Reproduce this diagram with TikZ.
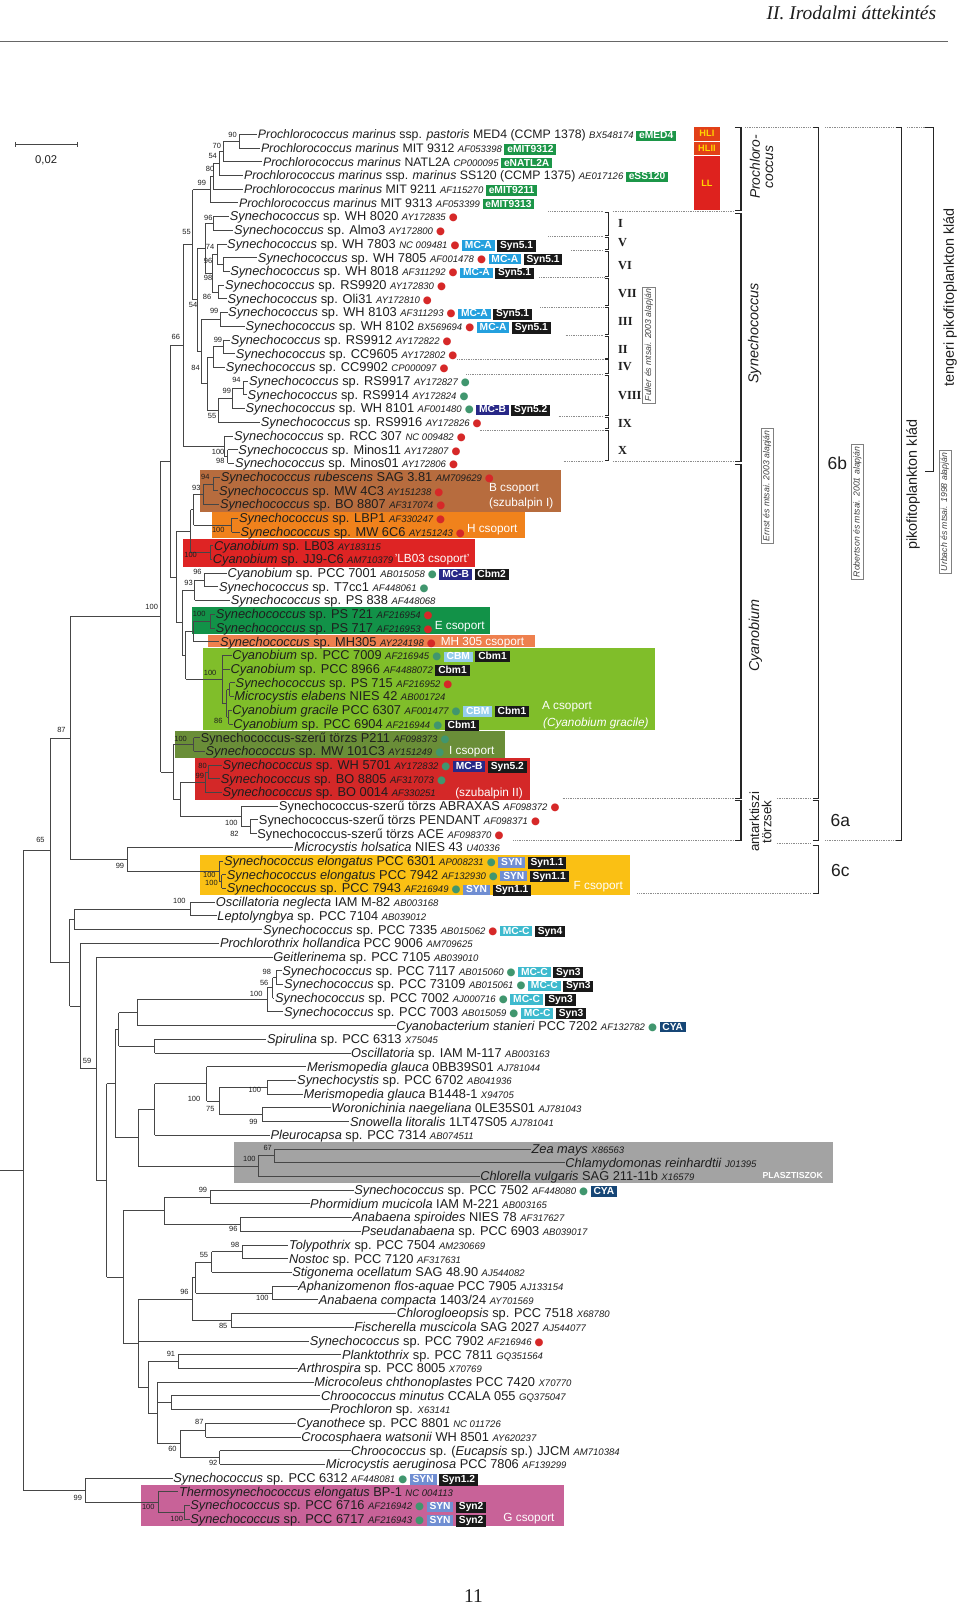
\documentclass[tikz,border=0pt]{standalone}
\usepackage{fontspec}
\setmainfont{Liberation Sans}
\newfontfamily\serif{Liberation Serif}
\newfontfamily\dejavu{DejaVu Sans}
\definecolor{txt}{RGB}{30,30,30}
\definecolor{brn}{RGB}{183,108,62}
\definecolor{org}{RGB}{240,130,28}
\definecolor{rd}{RGB}{222,36,36}
\definecolor{dgr}{RGB}{18,146,72}
\definecolor{slm}{RGB}{238,128,78}
\definecolor{lgr}{RGB}{128,190,42}
\definecolor{olv}{RGB}{106,142,56}
\definecolor{rdb}{RGB}{212,40,40}
\definecolor{ylw}{RGB}{250,192,20}
\definecolor{gry}{RGB}{163,163,163}
\definecolor{pnk}{RGB}{200,98,152}
\definecolor{tgreen}{RGB}{28,150,72}
\definecolor{tblue}{RGB}{36,160,222}
\definecolor{tnavy}{RGB}{40,40,135}
\definecolor{tcyan}{RGB}{62,186,206}
\definecolor{tlblue}{RGB}{150,206,236}
\definecolor{tsyn}{RGB}{112,142,210}
\definecolor{tcya}{RGB}{22,70,118}
\definecolor{tblk}{RGB}{25,25,25}
\definecolor{dotred}{RGB}{214,40,40}
\definecolor{dotgrn}{RGB}{64,150,110}
\definecolor{hlcol}{RGB}{226,64,24}
\definecolor{llcol}{RGB}{222,34,30}
\definecolor{hltext}{RGB}{255,214,0}
\definecolor{dotline}{RGB}{140,140,140}
\definecolor{brline}{RGB}{70,70,70}
\newcommand\Y[1]{131+13.38*((#1)-1)}
\newcommand\syn{\textit{Synechococcus}}
\newcommand\pro{\fontsize{12}{13}\selectfont\textit{Prochlorococcus marinus}}
\newcommand\cy{\textit{Cyanobium}}
\newcommand\acc[1]{{\fontsize{9.3}{9.3}\selectfont\itshape #1}}
\newcommand\tg[2]{\hspace{2.5pt}{\setlength{\fboxsep}{1pt}\colorbox{#1}{\hspace{1.8pt}\rule[-1.2pt]{0pt}{8pt}\fontsize{10}{10}\selectfont\bfseries\color{white}#2\hspace{1.8pt}}}}
\newcommand\dr{\hspace{3pt}{\dejavu\fontsize{10}{10}\selectfont\textcolor{dotred}{●}}}
\newcommand\dg{\hspace{3pt}{\dejavu\fontsize{10}{10}\selectfont\textcolor{dotgrn}{●}}}
\newcommand\dho{\hspace{3pt}{\dejavu\fontsize{10}{10}\selectfont\textcolor{dotred}{○}}}
\newcommand\lf[4]{\node[leaf] (L#1) at (#3,{\Y{#1}+4.3}) {#4};
  \coordinate (P#1) at (#2,{\Y{#1}});
  \draw[br] (P#1) -- (P#1 -| L#1.west);}
\newcommand\nd[4]{\draw[br] (#1,{\Y{((#3)+(#4))/2}}) -- (#2,{\Y{((#3)+(#4))/2}});
  \draw[br] (#2,{\Y{#3}}) -- (#2,{\Y{#4}});}
\newcounter{bsc}
\newcommand\bs[3]{\stepcounter{bsc}\node[bsl] (b\thebsc) at (#1,#2) {#3};}
\tikzset{
  br/.style={draw=brline, line width=0.8pt},
  leaf/.style={anchor=base west, inner xsep=0.5pt, inner ysep=0pt, font=\fontsize{12.5}{13}\selectfont, text=txt},
  bsl/.style={font=\fontsize{7.3}{7.3}\selectfont, text=txt, inner sep=0pt},
  glab/.style={anchor=west, font=\fontsize{11.5}{11.5}\selectfont, text=white, inner sep=0pt},
  brk/.style={draw=black!85, line width=1pt},
  dl/.style={draw=dotline, densely dotted, line width=0.7pt},
  vlab/.style={rotate=90, font=\fontsize{14}{15}\selectfont, text=txt},
  cite/.style={rotate=90, draw=black!50, line width=0.5pt, font=\fontsize{8.5}{9}\selectfont\itshape, inner sep=2pt, text=txt!85},
  roman/.style={anchor=west, font=\serif\bfseries\fontsize{12}{12}\selectfont, text=txt, inner sep=0pt},
  hl/.style={font=\fontsize{9}{9}\selectfont\bfseries, text=hltext, minimum width=26pt, inner sep=0pt}
}
\begin{document}
\begin{tikzpicture}[x=1pt,y=-1pt]
\useasboundingbox (0,0) rectangle (937,1568);
\fill[white] (0,0) rectangle (937,1568);
% header
\node[anchor=east, font=\serif\itshape\fontsize{19}{19}\selectfont, text=txt] (hdr) at (917,13) {II. Irodalmi áttekintés};
\draw[black!60, line width=0.6pt] (0,40) -- (925,40);
\node[font=\serif\fontsize{19}{19}\selectfont, text=txt] (pg) at (462,1557) {11};
% scale bar
\draw[brline, line width=0.8pt] (14.6,141) -- (76,141);
\draw[brline, line width=0.8pt] (14.6,138.5) -- (14.6,143.5) (76,138.5) -- (76,143.5);
\node[font=\fontsize{11}{11}\selectfont, text=txt] (scl) at (45,156) {0,02};
% coloured group boxes
\fill[brn] (195,459) rectangle (547,499.5);
\fill[org] (206.6,499.5) rectangle (512.4,525.4);
\fill[rd] (179,526) rectangle (463.6,553);
\fill[dgr] (187,592.2) rectangle (478,618.2);
\fill[slm] (203.3,619.8) rectangle (522.2,631.2);
\fill[lgr] (198.5,631.8) rectangle (639,712);
\fill[olv] (170.8,713) rectangle (493,740);
\fill[rdb] (190.3,740) rectangle (517.3,781);
\fill[ylw] (195,834) rectangle (615,873.6);
\fill[gry] (228,1114.5) rectangle (812.5,1154.5);
\fill[pnk] (138,1449) rectangle (550,1489);
% Prochlorococcus light boxes
\node[hl, fill=hlcol, minimum height=13.7pt] (hl1) at (689.75,130.45) {HLI};
\node[hl, fill=hlcol, minimum height=13pt] (hl2) at (689.75,144.8) {HLII};
\node[hl, fill=llcol, minimum height=52.7pt] (ll) at (689.75,178.65) {LL};
% group labels
\node[glab] (gB1) at (477,476.5) {B csoport};
\node[glab] (gB2) at (477,491) {(szubalpin I)};
\node[glab] (gH) at (455.5,517) {H csoport};
\node[glab] (gL) at (385,546) {'LB03 csoport'};
\node[glab] (gE) at (424,611.6) {E csoport};
\node[glab] (gM) at (430,626.6) {MH 305 csoport};
\node[glab] (gA1) at (528.7,689.5) {A csoport};
\node[glab] (gA2) at (529.7,706) {\itshape (Cyanobium gracile)};
\node[glab] (gI) at (438,733.5) {I csoport};
\node[glab] (gII) at (444,774.5) {(szubalpin II)};
\node[glab] (gF) at (559.6,865.5) {F csoport};
\node[glab] (gG) at (491,1482) {G csoport};
\node[glab, font=\fontsize{8.5}{8.5}\selectfont\bfseries] (gP) at (743.8,1147.3) {PLASZTISZOK};
% tree: internal nodes
\nd{218}{233.6}{1}{2}
\nd{214}{218}{1.5}{3}
\nd{208}{214}{2.25}{4}
\nd{205}{208}{3.125}{5}
\nd{188}{205}{4.0625}{6}
\nd{200}{208}{7}{8}
\nd{212}{218}{10}{11}
\nd{207}{212}{9}{10.5}
\nd{207}{213}{12}{13}
\nd{200}{207}{9.75}{12.5}
\nd{193}{200}{7.5}{11.125}
\nd{197}{215}{14}{15}
\nd{208}{218}{16}{17}
\nd{202}{208}{16.5}{18}
\nd{227}{237.5}{19}{20}
\nd{213}{227}{19.5}{21}
\nd{202}{213}{20.25}{22}
\nd{197}{202}{17.25}{21.125}
\nd{193}{197}{14.5}{19.1875}
\nd{188}{193}{9.3125}{16.84375}
\nd{178.5}{188}{5.03125}{13.078125}
\nd{219}{222}{24}{25}
\nd{178.5}{219}{23}{24.5}
\nd{166}{178.5}{9.0546875}{23.75}
\nd{198.5}{208}{26}{27}
\nd{189}{198.5}{26.5}{28}
\nd{189}{226}{29}{30}
\nd{186}{189}{27.25}{29.5}
\nd{186}{205}{31}{32}
\nd{172}{186}{28.375}{31.5}
\nd{190}{199}{33}{34}
\nd{178}{190}{33.5}{35}
\nd{189}{205}{36}{37}
\nd{181}{189}{36.5}{38}
\nd{221}{224}{41}{42}
\nd{221}{223}{43}{44}
\nd{217}{221}{41.5}{43.5}
\nd{181}{217}{39}{42.5}
\nd{178}{181}{37.25}{40.75}
\nd{172}{178}{34.25}{39}
\nd{166}{172}{29.9375}{36.625}
\nd{157}{166}{16.40234}{33.28125}
\nd{169}{189}{45}{46}
\nd{200}{203.4}{47}{48}
\nd{176}{200}{47.5}{49}
\nd{236}{244}{51}{52}
\nd{176}{236}{50}{51.5}
\nd{169}{176}{48.25}{50.75}
\nd{157}{169}{45.5}{49.5}
\nd{68.4}{157}{24.8418}{47.5}
\nd{214}{216.5}{55}{56}
\nd{124}{214}{54}{55.5}
\nd{68.4}{124}{53}{54.75}
\nd{48.9}{68.4}{36.1709}{53.875}
\nd{73}{185.5}{57}{58}
\nd{68}{73}{57.5}{59}
\nd{266}{269.4}{62}{63}
\nd{260.7}{266}{62.5}{64}
\nd{134}{260.7}{63.25}{65}
\nd{116}{134}{64.125}{66}
\nd{116}{151}{67}{68}
\nd{113}{116}{65.0625}{67.5}
\nd{214}{260.7}{70}{71}
\nd{214}{255.8}{72}{73}
\nd{201.5}{214}{70.5}{72.5}
\nd{151}{201.5}{69}{71.5}
\nd{135}{151}{70.25}{74}
\nd{252.2}{268}{75}{76}
\nd{135}{252.2}{75.5}{77}
\nd{113}{135}{72.125}{76.25}
\nd{104}{113}{66.28125}{74.1875}
\nd{160.5}{205.3}{78}{79}
\nd{160.5}{234.3}{80}{81}
\nd{120}{160.5}{78.5}{80.5}
\nd{206.6}{236.6}{82}{83}
\nd{191}{206.6}{82.5}{84}
\nd{191}{265.7}{85}{86}
\nd{187.3}{191}{83.25}{85.5}
\nd{187.3}{225.5}{87}{88}
\nd{134.7}{187.3}{84.375}{87.5}
\nd{144.8}{174}{90}{91}
\nd{153.7}{167.2}{93}{94}
\nd{176.2}{200.8}{95}{96}
\nd{176.2}{214.2}{97}{98}
\nd{153.7}{176.2}{95.5}{97.5}
\nd{144.8}{153.7}{92}{96.5}
\nd{134.7}{144.8}{90.5}{94.25}
\nd{120}{134.7}{85.9375}{92.375}
\nd{104}{120}{79.5}{89.15625}
\nd{94}{104}{70.234375}{84.328}
\nd{78}{94}{61}{77.281}
\nd{68}{78}{60}{69.14}
\nd{48.9}{68}{58.25}{64.57}
\nd{22.7}{48.9}{45.023}{61.41}
\nd{154.6}{179.6}{101}{102}
\nd{83}{154.6}{100}{101.5}
\nd{22.7}{83}{99}{100.75}
\nd{0}{22.7}{53.2165}{99.875}
% leaves
\lf{1}{233.6}{251}{\pro{} ssp. \textit{pastoris} MED4 (CCMP 1378) \acc{BX548174}\tg{tgreen}{eMED4}}
\lf{2}{233.6}{254}{\pro{} MIT 9312 \acc{AF053398}\tg{tgreen}{eMIT9312}}
\lf{3}{218}{256}{\pro{} NATL2A \acc{CP000095}\tg{tgreen}{eNATL2A}}
\lf{4}{214}{237.5}{\pro{} ssp. \textit{marinus} SS120 (CCMP 1375) \acc{AE017126}\tg{tgreen}{eSS120}}
\lf{5}{208}{237.5}{\pro{} MIT 9211 \acc{AF115270}\tg{tgreen}{eMIT9211}}
\lf{6}{205}{232.6}{\pro{} MIT 9313 \acc{AF053399}\tg{tgreen}{eMIT9313}}
\lf{7}{208}{223.6}{\syn{} sp. WH 8020 \acc{AY172835}\dr}
\lf{8}{208}{227.8}{\syn{} sp. Almo3 \acc{AY172800}\dr}
\lf{9}{212}{221}{\syn{} sp. WH 7803 \acc{NC 009481}\dr\tg{tblue}{MC-A}\tg{tblk}{Syn5.1}}
\lf{10}{218}{251}{\syn{} sp. WH 7805 \acc{AF001478}\dr\tg{tblue}{MC-A}\tg{tblk}{Syn5.1}}
\lf{11}{218}{224}{\syn{} sp. WH 8018 \acc{AF311292}\dr\tg{tblue}{MC-A}\tg{tblk}{Syn5.1}}
\lf{12}{213}{219}{\syn{} sp. RS9920 \acc{AY172830}\dr}
\lf{13}{213}{221.3}{\syn{} sp. Oli31 \acc{AY172810}\dr}
\lf{14}{215}{222}{\syn{} sp. WH 8103 \acc{AF311293}\dr\tg{tblue}{MC-A}\tg{tblk}{Syn5.1}}
\lf{15}{215}{239}{\syn{} sp. WH 8102 \acc{BX569694}\dr\tg{tblue}{MC-A}\tg{tblk}{Syn5.1}}
\lf{16}{218}{224.5}{\syn{} sp. RS9912 \acc{AY172822}\dr}
\lf{17}{218}{229.4}{\syn{} sp. CC9605 \acc{AY172802}\dr}
\lf{18}{208}{219.6}{\syn{} sp. CC9902 \acc{CP000097}\dr}
\lf{19}{237.5}{242.3}{\syn{} sp. RS9917 \acc{AY172827}\dg}
\lf{20}{237.5}{241}{\syn{} sp. RS9914 \acc{AY172824}\dg}
\lf{21}{227}{239}{\syn{} sp. WH 8101 \acc{AF001480}\dg\tg{tnavy}{MC-B}\tg{tblk}{Syn5.2}}
\lf{22}{213}{253.8}{\syn{} sp. RS9916 \acc{AY172826}\dr}
\lf{23}{219}{227.8}{\syn{} sp. RCC 307 \acc{NC 009482}\dr}
\lf{24}{222}{232}{\syn{} sp. Minos11 \acc{AY172807}\dr}
\lf{25}{222}{228.7}{\syn{} sp. Minos01 \acc{AY172806}\dr}
\lf{26}{208}{214.7}{\textit{Synechococcus rubescens} SAG 3.81 \acc{AM709629}\dr}
\lf{27}{208}{213}{\syn{} sp. MW 4C3 \acc{AY151238}\dr}
\lf{28}{198.5}{214}{\syn{} sp. BO 8807 \acc{AF317074}\dr}
\lf{29}{226}{232.6}{\syn{} sp. LBP1 \acc{AF330247}\dr}
\lf{30}{226}{234}{\syn{} sp. MW 6C6 \acc{AY151243}\dr}
\lf{31}{205}{208.2}{\cy{} sp. LB03 \acc{AY183115}}
\lf{32}{205}{207}{\cy{} sp. JJ9-C6 \acc{AM710379}}
\lf{33}{199}{221.3}{\cy{} sp. PCC 7001 \acc{AB015058}\dg\tg{tnavy}{MC-B}\tg{tblk}{Cbm2}}
\lf{34}{199}{213}{\syn{} sp. T7cc1 \acc{AF448061}\dg}
\lf{35}{190}{224.5}{\syn{} sp. PS 838 \acc{AF448068}}
\lf{36}{205}{210}{\syn{} sp. PS 721 \acc{AF216954}\dr}
\lf{37}{205}{210}{\syn{} sp. PS 717 \acc{AF216953}\dr}
\lf{38}{189}{214}{\syn{} sp. MH305 \acc{AY224198}\dr}
\lf{39}{217}{226}{\cy{} sp. PCC 7009 \acc{AF216945}\dg\tg{tlblue}{CBM}\tg{tblk}{Cbm1}}
\lf{40}{217}{224.4}{\cy{} sp. PCC 8966 \acc{AF4488072}\tg{tblk}{Cbm1}}
\lf{41}{224}{229.3}{\syn{} sp. PS 715 \acc{AF216952}\dr}
\lf{42}{224}{228}{\textit{Microcystis elabens} NIES 42 \acc{AB001724}}
\lf{43}{223}{226}{\textit{Cyanobium gracile} PCC 6307 \acc{AF001477}\dg\tg{tlblue}{CBM}\tg{tblk}{Cbm1}}
\lf{44}{223}{227}{\cy{} sp. PCC 6904 \acc{AF216944}\dg\tg{tblk}{Cbm1}}
\lf{45}{189}{195.2}{Synechococcus-szerű törzs P211 \acc{AF098373}\dg}
\lf{46}{189}{200}{\syn{} sp. MW 101C3 \acc{AY151249}\dg}
\lf{47}{203.4}{216.4}{\syn{} sp. WH 5701 \acc{AY172832}\dg\tg{tnavy}{MC-B}\tg{tblk}{Syn5.2}}
\lf{48}{203.4}{214.7}{\syn{} sp. BO 8805 \acc{AF317073}\dg}
\lf{49}{200}{216.4}{\syn{} sp. BO 0014 \acc{AF330251}\dho}
\lf{50}{236}{271.7}{Synechococcus-szerű törzs ABRAXAS \acc{AF098372}\dr}
\lf{51}{244}{252}{Synechococcus-szerű törzs PENDANT \acc{AF098371}\dr}
\lf{52}{244}{250.5}{Synechococcus-szerű törzs ACE \acc{AF098370}\dr}
\lf{53}{124}{286.3}{\textit{Microcystis holsatica} NIES 43 \acc{U40336}}
\lf{54}{214}{218}{\textit{Synechococcus elongatus} PCC 6301 \acc{AP008231}\dg\tg{tsyn}{SYN}\tg{tblk}{Syn1.1}}
\lf{55}{216.5}{220.6}{\textit{Synechococcus elongatus} PCC 7942 \acc{AF132930}\dg\tg{tsyn}{SYN}\tg{tblk}{Syn1.1}}
\lf{56}{216.5}{220.6}{\syn{} sp. PCC 7943 \acc{AF216949}\dg\tg{tsyn}{SYN}\tg{tblk}{Syn1.1}}
\lf{57}{185.5}{210}{\textit{Oscillatoria neglecta} IAM M-82 \acc{AB003168}}
\lf{58}{185.5}{211.5}{\textit{Leptolyngbya} sp. PCC 7104 \acc{AB039012}}
\lf{59}{73}{256}{\syn{} sp. PCC 7335 \acc{AB015062}\dr\tg{tcyan}{MC-C}\tg{tblk}{Syn4}}
\lf{60}{78}{214}{\textit{Prochlorothrix hollandica} PCC 9006 \acc{AM709625}}
\lf{61}{94}{266}{\textit{Geitlerinema} sp. PCC 7105 \acc{AB039010}}
\lf{62}{269.4}{274.7}{\syn{} sp. PCC 7117 \acc{AB015060}\dg\tg{tcyan}{MC-C}\tg{tblk}{Syn3}}
\lf{63}{269.4}{276.5}{\syn{} sp. PCC 73109 \acc{AB015061}\dg\tg{tcyan}{MC-C}\tg{tblk}{Syn3}}
\lf{64}{265.9}{267.7}{\syn{} sp. PCC 7002 \acc{AJ000716}\dg\tg{tcyan}{MC-C}\tg{tblk}{Syn3}}
\lf{65}{260.7}{276.5}{\syn{} sp. PCC 7003 \acc{AB015059}\dg\tg{tcyan}{MC-C}\tg{tblk}{Syn3}}
\lf{66}{134}{386}{\textit{Cyanobacterium stanieri} PCC 7202 \acc{AF132782}\dg\tg{tcya}{CYA}}
\lf{67}{151}{260}{\textit{Spirulina} sp. PCC 6313 \acc{X75045}}
\lf{68}{151}{342}{\textit{Oscillatoria} sp. IAM M-117 \acc{AB003163}}
\lf{69}{201.5}{299}{\textit{Merismopedia glauca} 0BB39S01 \acc{AJ781044}}
\lf{70}{260.7}{289.3}{\textit{Synechocystis} sp. PCC 6702 \acc{AB041936}}
\lf{71}{260.7}{295.6}{\textit{Merismopedia glauca} B1448-1 \acc{X94705}}
\lf{72}{255.8}{322.6}{\textit{Woronichinia naegeliana} 0LE35S01 \acc{AJ781043}}
\lf{73}{255.8}{341}{\textit{Snowella litoralis} 1LT47S05 \acc{AJ781041}}
\lf{74}{151}{263.4}{\textit{Pleurocapsa} sp. PCC 7314 \acc{AB074511}}
\lf{75}{268}{518}{\textit{Zea mays} \acc{X86563}}
\lf{76}{268}{551}{\textit{Chlamydomonas reinhardtii} \acc{J01395}}
\lf{77}{252.2}{468}{\textit{Chlorella vulgaris} SAG 211-11b \acc{X16579}}
\lf{78}{205.3}{345}{\syn{} sp. PCC 7502 \acc{AF448080}\dg\tg{tcya}{CYA}}
\lf{79}{205.3}{302}{\textit{Phormidium mucicola} IAM M-221 \acc{AB003165}}
\lf{80}{234.3}{343}{\textit{Anabaena spiroides} NIES 78 \acc{AF317627}}
\lf{81}{234.3}{352}{\textit{Pseudanabaena} sp. PCC 6903 \acc{AB039017}}
\lf{82}{236.6}{281.4}{\textit{Tolypothrix} sp. PCC 7504 \acc{AM230669}}
\lf{83}{236.6}{281.4}{\textit{Nostoc} sp. PCC 7120 \acc{AF317631}}
\lf{84}{206.6}{284.5}{\textit{Stigonema ocellatum} SAG 48.90 \acc{AJ544082}}
\lf{85}{265.7}{290.3}{\textit{Aphanizomenon flos-aquae} PCC 7905 \acc{AJ133154}}
\lf{86}{265.7}{310.4}{\textit{Anabaena compacta} 1403/24 \acc{AY701569}}
\lf{87}{225.5}{386.5}{\textit{Chlorogloeopsis} sp. PCC 7518 \acc{X68780}}
\lf{88}{225.5}{345}{\textit{Fischerella muscicola} SAG 2027 \acc{AJ544077}}
\lf{89}{134.7}{301.6}{\syn{} sp. PCC 7902 \acc{AF216946}\dr}
\lf{90}{174}{333}{\textit{Planktothrix} sp. PCC 7811 \acc{GQ351564}}
\lf{91}{174}{290.3}{\textit{Arthrospira} sp. PCC 8005 \acc{X70769}}
\lf{92}{153.7}{306}{\textit{Microcoleus chthonoplastes} PCC 7420 \acc{X70770}}
\lf{93}{167.2}{312.7}{\textit{Chroococcus minutus} CCALA 055 \acc{GQ375047}}
\lf{94}{167.2}{321.6}{\textit{Prochloron} sp. \acc{X63141}}
\lf{95}{200.8}{289}{\textit{Cyanothece} sp. PCC 8801 \acc{NC 011726}}
\lf{96}{200.8}{293.4}{\textit{Crocosphaera watsonii} WH 8501 \acc{AY620237}}
\lf{97}{214.2}{342}{\textit{Chroococcus} sp. (\textit{Eucapsis} sp.) JJCM \acc{AM710384}}
\lf{98}{214.2}{317.3}{\textit{Microcystis aeruginosa} PCC 7806 \acc{AF139299}}
\lf{99}{83}{168.5}{\syn{} sp. PCC 6312 \acc{AF448081}\dg\tg{tsyn}{SYN}\tg{tblk}{Syn1.2}}
\lf{100}{154.6}{174}{\textit{Thermosynechococcus elongatus} BP-1 \acc{NC 004113}}
\lf{101}{179.6}{185}{\syn{} sp. PCC 6716 \acc{AF216942}\dg\tg{tsyn}{SYN}\tg{tblk}{Syn2}}
\lf{102}{179.6}{185}{\syn{} sp. PCC 6717 \acc{AF216943}\dg\tg{tsyn}{SYN}\tg{tblk}{Syn2}}
% bootstrap values
\bs{227}{132}{90}\bs{211.5}{142}{70}\bs{207.5}{152.5}{54}\bs{205}{165}{80}\bs{197}{178}{99}
\bs{203.3}{213}{96}\bs{205}{241}{74}\bs{203}{254.5}{96}\bs{203}{271}{98}\bs{202}{290}{86}
\bs{188.4}{297.4}{54}\bs{182}{226}{55}\bs{209}{303.4}{99}\bs{212.7}{331.5}{99}\bs{190.8}{358.7}{84}
\bs{230.7}{371}{94}\bs{221.3}{381.5}{99}\bs{207}{405.5}{55}\bs{212.8}{441}{100}\bs{215}{449.8}{98}
\bs{171.5}{329}{66}\bs{148}{592}{100}\bs{60}{712}{87}\bs{39.5}{820}{65}\bs{117}{845}{99}
\bs{85}{1035}{59}\bs{76}{1462}{99}
\bs{200.4}{465.8}{94}\bs{191.6}{476}{93}\bs{213}{517.3}{100}\bs{186}{541.7}{100}\bs{192.7}{558}{96}\bs{184}{568.6}{93}
\bs{194.4}{599.2}{100}\bs{205}{657}{100}\bs{213}{703.6}{86}
\bs{176.2}{721}{100}\bs{197.6}{747.8}{80}\bs{195}{757}{99}\bs{225.8}{802.8}{100}\bs{228.8}{813.6}{82}
\bs{204.3}{853.6}{100}\bs{206.3}{861.7}{100}\bs{175}{879.3}{100}
\bs{260.4}{948}{98}\bs{257.8}{959.2}{56}\bs{250}{970}{100}\bs{248.6}{1063.4}{100}\bs{189.3}{1072.4}{100}
\bs{205.3}{1082}{75}\bs{247.3}{1095}{99}\bs{261.2}{1120}{67}\bs{243.3}{1130.8}{100}\bs{198}{1160.8}{99}
\bs{227.6}{1199}{96}\bs{229.4}{1215}{98}\bs{199}{1224.8}{55}\bs{180}{1260.6}{96}\bs{256}{1266.8}{100}
\bs{217.8}{1293.8}{85}\bs{166.8}{1321}{91}\bs{194.5}{1387.7}{87}\bs{168.3}{1414.2}{60}\bs{208}{1427.2}{92}
\bs{144.7}{1470.3}{100}\bs{172.4}{1482}{100}
% dotted guide lines
\foreach \yy/\xs in {206.6/535,231/535,244/557,270.5/526,299.5/527,327.5/552,350.2/446,365/455,406/545,419.5/468,450/550}
  {\draw[dl] (\xs,\yy) -- (589,\yy);}
\draw[dl] (598,206.6) -- (716,206.6);
\draw[dl] (598,450.5) -- (716,450.5);
\draw[dl] (727,124.3) -- (791,124.3);
\draw[dl] (805,124.3) -- (873,124.3);
\draw[dl] (885,124.3) -- (903,124.3);
\draw[dl] (549,779.2) -- (716,779.2);
\draw[dl] (758,779.2) -- (791,779.2);
\draw[dl] (501,820) -- (716,820);
\draw[dl] (758,822.5) -- (791,822.5);
\draw[dl] (805,820) -- (874,820);
\draw[dl] (622,872) -- (791,872);
% roman numeral brackets
\foreach \tt/\bb in {207.5/229.5,232/243,245.5/269.5,272/298.5,300.5/326.5,328.5/349.5,351/364,366/405,407/418.5,420.5/449.5}
  {\draw[brk] (590,\tt) -- (594,\tt) -- (594,\bb) -- (590,\bb);}
\node[roman] (r1) at (603,218) {I};
\node[roman] (r5) at (603,236.5) {V};
\node[roman] (r6) at (603,259.3) {VI};
\node[roman] (r7) at (603,286.3) {VII};
\node[roman] (r3) at (603,314) {III};
\node[roman] (r2) at (603,340.6) {II};
\node[roman] (r4) at (603,358) {IV};
\node[roman] (r8) at (603,385.6) {VIII};
\node[roman] (r9) at (603,413.2) {IX};
\node[roman] (r10) at (603,439.2) {X};
% genus brackets
\draw[brk] (717,124.3) -- (723,124.3) -- (723,205.6) -- (717,205.6);
\draw[brk] (717,208.2) -- (723,208.2) -- (723,450.5) -- (717,450.5);
\draw[brk] (717,453.5) -- (723,453.5) -- (723,779) -- (717,779);
\draw[brk] (717,781.5) -- (723,781.5) -- (723,820) -- (717,820);
% 6a/6b/6c brackets
\draw[brk] (793,124.3) -- (799,124.3) -- (799,779) -- (793,779);
\draw[brk] (793,781.5) -- (799,781.5) -- (799,820) -- (793,820);
\draw[brk] (793,824.8) -- (799,824.8) -- (799,872) -- (793,872);
% clade brackets
\draw[brk] (874,124.3) -- (880,124.3) -- (880,820) -- (874,820);
\draw[brk] (903,124.3) -- (910.7,124.3) -- (910.7,460.4) -- (903,460.4);
% side labels
\node[vlab, align=center, font=\fontsize{13.5}{13}\selectfont\itshape] (lpro) at (743,163) {Prochloro-\\coccus};
\node[vlab, font=\fontsize{14}{14}\selectfont\itshape] (lsyn) at (736.3,325.3) {Synechococcus};
\node[vlab, font=\fontsize{14}{14}\selectfont\itshape] (lcya) at (737,620) {Cyanobium};
\node[vlab, align=center, font=\fontsize{13}{12}\selectfont] (lant) at (742,802) {antarktiszi\\törzsek};
\node[vlab] (lpik) at (891,473) {pikofitoplankton klád};
\node[vlab] (lten) at (927,290) {tengeri pikofitoplankton klád};
\node[font=\fontsize{17}{17}\selectfont, text=txt] (l6b) at (817,452) {6b};
\node[font=\fontsize{17}{17}\selectfont, text=txt] (l6a) at (820,801) {6a};
\node[font=\fontsize{17}{17}\selectfont, text=txt] (l6c) at (820,849) {6c};
\node[cite] (cF) at (633,336.7) {Fuller és mtsai. 2003 alapján};
\node[cite] (cE) at (748.5,474) {Ernst és mtsai. 2003 alapján};
\node[cite] (cR) at (836.5,499.5) {Robertson és mtsai. 2001 alapján};
\node[cite] (cU) at (922,499.5) {Urbach és mtsai. 1998 alapján};
\end{tikzpicture}
\end{document}
